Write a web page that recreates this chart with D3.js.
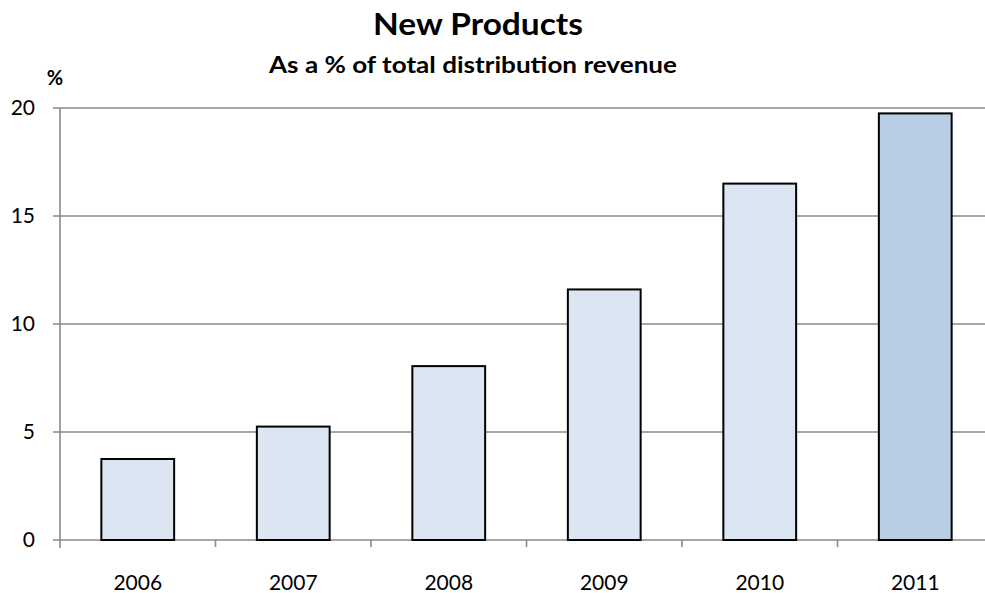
<!DOCTYPE html>
<html>
<head>
<meta charset="utf-8">
<script src="https://cdn.jsdelivr.net/npm/d3@7"></script>
<style>
  html, body { margin: 0; padding: 0; background: #fff; }
  svg { display: block; }
  text { font-family: Lato, "Open Sans", "DejaVu Sans", sans-serif; fill: #000; }
</style>
</head>
<body>
<svg id="chart" width="985" height="593"></svg>
<script>
// New product revenue share by year
const years = ["2006", "2007", "2008", "2009", "2010", "2011"];
const shares = [3.75, 5.25, 8.05, 11.6, 16.5, 19.75];
const yTicks = [0, 5, 10, 15, 20];
const highlightYear = "2011";

const svg = d3.select("#chart");
const W = 985, H = 593;
const plotLeft = 60, plotRight = 993, plotTop = 108, plotBottom = 540;

const x = d3.scaleBand()
  .domain(years)
  .range([plotLeft, plotRight])
  .paddingInner(0.532)
  .paddingOuter(0.266);

const y = d3.scaleLinear()
  .domain([0, 20])
  .range([plotBottom, plotTop]);

const step = (plotRight - plotLeft) / years.length;
const gridColor = "#8a8a8a";

// horizontal gridlines with short ticks left of the axis
svg.append("g")
  .selectAll("line")
  .data(yTicks)
  .join("line")
  .attr("x1", plotLeft - 7)
  .attr("x2", W)
  .attr("y1", d => y(d))
  .attr("y2", d => y(d))
  .attr("stroke", gridColor)
  .attr("stroke-width", 1.6);

// vertical axis line
svg.append("line")
  .attr("x1", plotLeft).attr("x2", plotLeft)
  .attr("y1", y(20)).attr("y2", plotBottom + 8)
  .attr("stroke", gridColor)
  .attr("stroke-width", 1.6);

// category boundary ticks below the baseline
svg.append("g")
  .selectAll("line")
  .data(d3.range(1, years.length + 1))
  .join("line")
  .attr("x1", i => plotLeft + i * step)
  .attr("x2", i => plotLeft + i * step)
  .attr("y1", plotBottom)
  .attr("y2", plotBottom + 7)
  .attr("stroke", gridColor)
  .attr("stroke-width", 1.6);

// y tick labels
svg.append("g")
  .selectAll("text")
  .data(yTicks)
  .join("text")
  .attr("x", 35)
  .attr("y", d => y(d))
  .attr("dy", "0.35em")
  .attr("text-anchor", "end")
  .attr("font-size", 21)
  .text(d => d);

// bars
svg.append("g")
  .selectAll("rect")
  .data(years.map((yr, i) => ({ yr, v: shares[i] })))
  .join("rect")
  .attr("x", d => x(d.yr))
  .attr("y", d => y(d.v))
  .attr("width", x.bandwidth())
  .attr("height", d => y(0) - y(d.v))
  .attr("fill", d => d.yr === highlightYear ? "#b9cde5" : "#dce6f2")
  .attr("stroke", "#000")
  .attr("stroke-width", 2);

// x labels
svg.append("g")
  .selectAll("text")
  .data(years)
  .join("text")
  .attr("x", d => x(d) + x.bandwidth() / 2)
  .attr("y", 590)
  .attr("text-anchor", "middle")
  .attr("font-size", 21)
  .text(d => d);

// titles
svg.append("text")
  .attr("x", 478).attr("y", 35)
  .attr("text-anchor", "middle")
  .attr("font-size", 30)
  .attr("font-weight", "bold")
  .attr("textLength", 210)
  .attr("lengthAdjust", "spacingAndGlyphs")
  .text("New Products");

svg.append("text")
  .attr("x", 473).attr("y", 73)
  .attr("text-anchor", "middle")
  .attr("font-size", 23)
  .attr("font-weight", "bold")
  .attr("textLength", 408)
  .attr("lengthAdjust", "spacingAndGlyphs")
  .text("As a % of total distribution revenue");

svg.append("text")
  .attr("x", 55).attr("y", 85)
  .attr("text-anchor", "middle")
  .attr("font-size", 20)
  .attr("font-weight", "bold")
  .text("%");
</script>
</body>
</html>
